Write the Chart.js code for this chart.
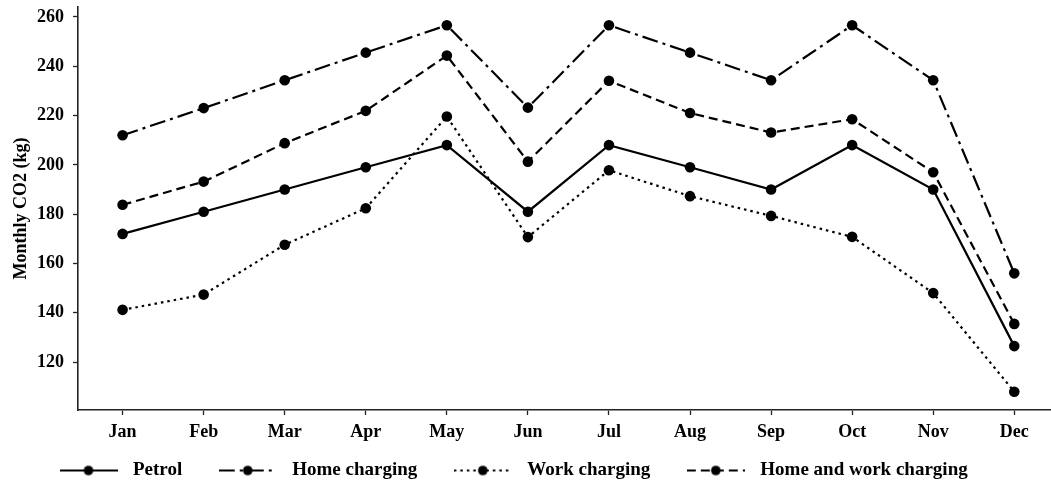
<!DOCTYPE html>
<html>
<head>
<meta charset="utf-8">
<script src="https://cdn.jsdelivr.net/npm/chart.js@4/dist/chart.umd.min.js"></script>
<style>
  html, body { margin: 0; padding: 0; background: #fff; overflow: hidden; }
  #wrap { width: 1051px; height: 484px; }
</style>
</head>
<body>
<div id="wrap"><canvas id="co2Chart" width="1051" height="484"></canvas></div>
<script>
const months = ['Jan', 'Feb', 'Mar', 'Apr', 'May', 'Jun', 'Jul', 'Aug', 'Sep', 'Oct', 'Nov', 'Dec'];
const petrol = [172, 181, 190, 199, 208, 181, 208, 199, 190, 208, 190, 126.5];
const homeCharging = [212, 223, 234.3, 245.5, 256.6, 223.2, 256.6, 245.5, 234.3, 256.6, 234.3, 156];
const workCharging = [141.2, 147.4, 167.6, 182.4, 219.6, 170.7, 197.8, 187.3, 179.3, 170.8, 148, 108];
const homeWorkCharging = [183.8, 193.2, 208.8, 221.9, 244.3, 201.3, 234.1, 221, 213.1, 218.5, 197, 135.5];
const yTicks = [120, 140, 160, 180, 200, 220, 240, 260];

const FONT = "'Liberation Serif', 'Times New Roman', serif";

// line sample + marker, used as legend pointStyle image
function legendSample(dash) {
  const c = document.createElement('canvas');
  c.width = 58; c.height = 12;
  const g = c.getContext('2d');
  g.strokeStyle = '#000';
  g.lineWidth = 2.2;
  g.setLineDash(dash);
  g.beginPath();
  g.moveTo(0, 6);
  g.lineTo(58, 6);
  g.stroke();
  g.beginPath();
  g.arc(29, 6, 4.8, 0, Math.PI * 2);
  g.fillStyle = '#000';
  g.fill();
  return c;
}

const series = [
  { label: 'Petrol', values: petrol, dash: [] },
  { label: 'Home charging', values: homeCharging, dash: [16, 5, 3, 5] },
  { label: 'Work charging', values: workCharging, dash: [2.5, 4] },
  { label: 'Home and work charging', values: homeWorkCharging, dash: [9, 5] }
];

const datasets = series.map(s => ({
  label: s.label,
  data: s.values.map((v, i) => ({ x: i, y: v })),
  borderColor: '#000',
  borderWidth: 2.2,
  borderDash: s.dash,
  pointRadius: 5.3,
  pointBackgroundColor: '#000',
  pointBorderWidth: 0,
  pointHoverRadius: 5.3,
  fill: false,
  tension: 0,
  sample: legendSample(s.dash)
}));

// put the legend row where the reference has it
const placeLegend = {
  id: 'placeLegend',
  afterLayout(chart) {
    const lg = chart.legend;
    lg.left = 23;
    lg.top = 430.5;
    lg.bottom = 484;
  }
};

const ctx = document.getElementById('co2Chart').getContext('2d');
const chart = new Chart(ctx, {
  type: 'line',
  data: { datasets: datasets },
  plugins: [placeLegend],
  options: {
    responsive: false,
    animation: false,
    layout: { autoPadding: false, padding: { top: 7, left: 0, right: 0, bottom: 0 } },
    plugins: {
      tooltip: { enabled: false },
      legend: {
        position: 'bottom',
        align: 'start',
        maxHeight: 38,
        labels: {
          usePointStyle: true,
          pointStyleWidth: 70,
          padding: 30.5,
          color: '#000',
          font: { family: FONT, size: 19, weight: 'bold' },
          generateLabels: c => c.data.datasets.map((d, i) => ({
            text: d.label,
            pointStyle: d.sample,
            fillStyle: '#000',
            strokeStyle: '#000',
            lineWidth: 0,
            hidden: false,
            datasetIndex: i,
            fontColor: '#000'
          }))
        }
      }
    },
    scales: {
      x: {
        type: 'linear',
        min: -0.55,
        max: 11.453,
        afterBuildTicks: scale => { scale.ticks = months.map((m, i) => ({ value: i })); },
        afterFit: scale => { scale.height = 36; scale.paddingLeft = 0; scale.paddingRight = 0; },
        ticks: {
          autoSkip: false,
          maxRotation: 0,
          padding: 7,
          color: '#000',
          font: { family: FONT, size: 18, weight: 'bold' },
          callback: v => months[v]
        },
        grid: { drawOnChartArea: false, drawTicks: true, tickLength: 5, tickColor: '#222', tickWidth: 1.3 },
        border: { display: true, color: '#222', width: 1.6 }
      },
      y: {
        min: 100.6,
        max: 264,
        afterBuildTicks: scale => { scale.ticks = yTicks.map(v => ({ value: v })); },
        afterFit: scale => { scale.width = 78; scale.paddingTop = 0; scale.paddingBottom = 0; },
        ticks: {
          padding: 9,
          color: '#000',
          font: { family: FONT, size: 18, weight: 'bold' }
        },
        title: {
          display: true,
          text: 'Monthly CO2 (kg)',
          color: '#000',
          padding: { top: 11, bottom: 0 },
          font: { family: FONT, size: 18, weight: 'bold' }
        },
        grid: { drawOnChartArea: false, drawTicks: true, tickLength: 5, tickColor: '#222', tickWidth: 1.3 },
        border: { display: true, color: '#222', width: 1.6 }
      }
    }
  }
});
</script>
</body>
</html>
